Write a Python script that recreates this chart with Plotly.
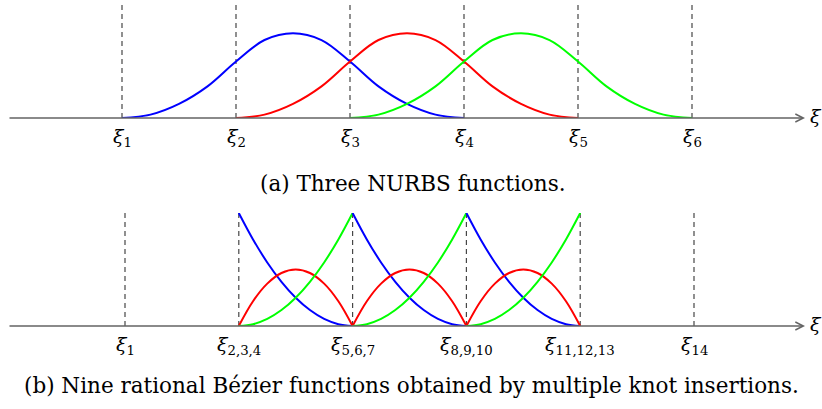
import plotly.graph_objects as go

# knot positions (in knot-span units) and their labels
top_knots = [1, 2, 3, 4, 5, 6]
top_labels = ['1', '2', '3', '4', '5', '6']
bot_knots = [1, 2, 3, 4, 5, 6]
bot_labels = ['1', '2,3,4', '5,6,7', '8,9,10', '11,12,13', '14']

nurbs_offsets = [0, 0.25, 0.5, 0.75, 1, 1.25, 1.5, 1.75, 2, 2.25, 2.5, 2.75, 3]
nurbs_values = [0, 0.03, 0.125, 0.28, 0.5, 0.69, 0.75, 0.69, 0.5, 0.28, 0.125, 0.03, 0]
nurbs_starts = [1, 2, 3]
nurbs_colors = ['rgb(0,0,255)', 'rgb(255,0,0)', 'rgb(0,255,0)']

# Bezier pieces on each element, sampled every eighth of a span
bez_offsets = [0, 0.125, 0.25, 0.375, 0.5, 0.625, 0.75, 0.875, 1]
bez_blue = [1, 0.766, 0.5625, 0.391, 0.25, 0.141, 0.0625, 0.016, 0]
bez_red = [0, 0.219, 0.375, 0.469, 0.5, 0.469, 0.375, 0.219, 0]
bez_green = [0, 0.016, 0.0625, 0.141, 0.25, 0.391, 0.5625, 0.766, 1]
bez_starts = [2, 3, 4]

W, H = 822, 409
axis_grey = 'rgb(100,100,100)'
dash_grey = 'rgb(70,70,70)'
serif = 'DejaVu Serif'

fig = go.Figure()

for start, col in zip(nurbs_starts, nurbs_colors):
    fig.add_trace(go.Scatter(
        x=[start + o for o in nurbs_offsets], y=nurbs_values,
        mode='lines', line=dict(color=col, width=2, shape='spline'),
        xaxis='x', yaxis='y', hoverinfo='skip'))

for start in bez_starts:
    for vals, col in [(bez_blue, nurbs_colors[0]), (bez_red, nurbs_colors[1]),
                      (bez_green, nurbs_colors[2])]:
        fig.add_trace(go.Scatter(
            x=[start + o for o in bez_offsets], y=vals,
            mode='lines', line=dict(color=col, width=2, shape='spline'),
            xaxis='x2', yaxis='y2', hoverinfo='skip'))

# pixel geometry of the two panels: (first knot px, knot spacing px)
panels = [('x', 'y', top_knots, top_labels, 122, 114),
          ('x2', 'y2', bot_knots, bot_labels, 125, 113.8)]

shapes = []
annotations = []
for xr, yr, knots, labels, k0, dk in panels:
    for k, lab in zip(knots, labels):
        shapes.append(dict(type='line', xref=xr, yref=yr, x0=k, x1=k, y0=0, y1=1,
                           line=dict(color=dash_grey, width=1.2, dash='5px,4px'), layer='below'))
        annotations.append(dict(xref=xr, yref=yr, x=k, y=0, yshift=-5, showarrow=False,
                                yanchor='top', text='<i>ξ</i><sub>' + lab + '</sub>',
                                font=dict(family=serif, size=19, color='black')))
    # horizontal axis with arrow head
    x_start = 1 + (8 - k0) / dk
    x_end = 1 + (805 - k0) / dk
    annotations.append(dict(xref=xr, yref=yr, axref=xr, ayref=yr, x=x_end, y=0,
                            ax=x_start, ay=0, text='', showarrow=True, arrowhead=5,
                            arrowsize=1.2, arrowwidth=1.3, arrowcolor=axis_grey, standoff=0))
    annotations.append(dict(xref=xr, yref=yr, x=x_end, y=0, xshift=3, yshift=2, showarrow=False,
                            xanchor='left', yanchor='middle', text='<i>ξ</i>',
                            font=dict(family=serif, size=19, color='black')))

annotations.append(dict(xref='paper', yref='paper', x=0.503, y=(H - 183) / H, showarrow=False,
                        xanchor='center', yanchor='middle',
                        text='(a) Three NURBS functions.',
                        font=dict(family=serif, size=21.5, color='black')))
annotations.append(dict(xref='paper', yref='paper', x=0.5, y=(H - 385) / H, showarrow=False,
                        xanchor='center', yanchor='middle',
                        text='(b) Nine rational Bézier functions obtained by multiple knot insertions.',
                        font=dict(family=serif, size=21.5, color='black')))

ax_common = dict(showgrid=False, zeroline=False, showticklabels=False, showline=False, ticks='')
fig.update_layout(
    width=W, height=H, margin=dict(l=0, r=0, t=0, b=0),
    paper_bgcolor='white', plot_bgcolor='white', showlegend=False,
    xaxis=dict(domain=[0, 1], range=[1 - 122 / 114, 1 + 700 / 114], anchor='y', **ax_common),
    yaxis=dict(domain=[(H - 118) / H, (H - 5) / H], range=[0, 1], anchor='x', **ax_common),
    xaxis2=dict(domain=[0, 1], range=[1 - 125 / 113.8, 1 + 697 / 113.8], anchor='y2', **ax_common),
    yaxis2=dict(domain=[(H - 326) / H, (H - 213) / H], range=[0, 1], anchor='x2', **ax_common),
    shapes=shapes, annotations=annotations,
)

fig.write_html('out.html', config={'displayModeBar': False},
               post_script="document.body.style.margin='0';document.body.style.overflow='hidden';")
